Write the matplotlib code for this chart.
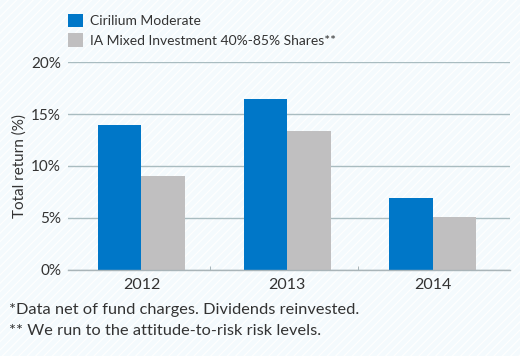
import matplotlib
matplotlib.use("Agg")
import matplotlib.pyplot as plt
import numpy as np
from matplotlib.patches import Rectangle

years = ["2012", "2013", "2014"]
cirilium = [13.9, 16.5, 6.9]
ia_mixed = [9.0, 13.4, 5.1]
series_names = ["Cirilium Moderate", "IA Mixed Investment 40%-85% Shares**"]
yticks = [0, 5, 10, 15, 20]
ytick_labels = ["0%", "5%", "10%", "15%", "20%"]
footnotes = ["*Data net of fund charges. Dividends reinvested.",
             "** We run to the attitude-to-risk risk levels."]

plt.rcParams['font.family'] = ['Lato', 'DejaVu Sans']
txt = '#333333'
blue = '#0077c8'
gray = '#c0bfc0'

fig = plt.figure(figsize=(5.2, 3.56), dpi=100)
fig.patch.set_facecolor('#f4fafd')
plt.rcParams['hatch.linewidth'] = 0.8
bg = Rectangle((0, 0), 1, 1, transform=fig.transFigure, facecolor='#f4fafd',
               edgecolor='white', hatch='////', linewidth=0, zorder=-10)
fig.patches.append(bg)

ax = fig.add_axes([68/520, 1-269.5/356, 442/520, 207.2/356])
ax.set_facecolor('none')
x = np.arange(len(years))
w = 0.298
ax.bar(x - w/2, cirilium, w, color=blue, zorder=3, label=series_names[0])
ax.bar(x + w/2, ia_mixed, w, color=gray, zorder=3, label=series_names[1])

ax.set_xlim(-0.504, 2.53)
ax.set_ylim(0, 20)
ax.set_yticks(yticks)
ax.set_yticklabels(ytick_labels)
ax.set_xticks(x)
ax.set_xticklabels(years)
ax.set_xticks([0.47, 1.49], minor=True)
ax.tick_params(axis='x', which='major', length=0, pad=6, labelsize=11.5, colors=txt)
ax.tick_params(axis='x', which='minor', length=3, color='#9aa8ac', direction='in')
ax.tick_params(axis='y', length=0, pad=5, labelsize=11, colors=txt)
ax.grid(axis='y', color='#a9bcc0', linewidth=1.0, zorder=0)
for s in ['top', 'right', 'left']:
    ax.spines[s].set_visible(False)
ax.spines['bottom'].set_color('#a9b4b8')
ax.spines['bottom'].set_linewidth(1.0)
ax.spines['bottom'].set_zorder(4)
ax.set_ylabel("Total return (%)", fontsize=11, color=txt, labelpad=3)

leg = fig.legend(loc='upper left', bbox_to_anchor=(62/520, 1-8/356), frameon=False,
                 fontsize=10, handlelength=1.1, handleheight=1.1, handletextpad=0.5,
                 labelspacing=0.45, borderaxespad=0)
for t in leg.get_texts():
    t.set_color(txt)

fig.text(9/520, 1-310/356, footnotes[0], fontsize=11.8, color=txt, va='center')
fig.text(9/520, 1-331/356, footnotes[1], fontsize=11.8, color=txt, va='center')

fig.savefig("out.png", dpi=100, facecolor=fig.get_facecolor())
